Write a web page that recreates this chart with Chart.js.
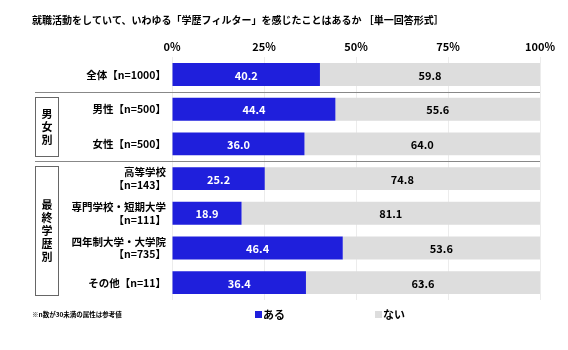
<!DOCTYPE html>
<html>
<head>
<meta charset="utf-8">
<script src="https://cdn.jsdelivr.net/npm/chart.js@4/dist/chart.umd.min.js"></script>
<style>
  body { margin: 0; background: #fff; }
  #wrap { width: 568px; height: 350px; }
</style>
</head>
<body>
<div id="wrap"><canvas id="chart" width="568" height="350"></canvas></div>
<script>
// data
const categories = [
    '全体【n=1000】',
    '男性【n=500】',
    '女性【n=500】',
    ['高等学校', '【n=143】'],
    ['専門学校・短期大学', '【n=111】'],
    ['四年制大学・大学院', '【n=735】'],
    'その他【n=11】'
];
const aruValues = [40.2, 44.4, 36.0, 25.2, 18.9, 46.4, 36.4];
const naiValues = [59.8, 55.6, 64.0, 74.8, 81.1, 53.6, 63.6];
const tickValues = [0, 25, 50, 75, 100];
const seriesNames = ['ある', 'ない'];
const groupNames = ['男女別', '最終学歴別'];

const FONT = '"Noto Sans CJK JP", "Noto Sans", sans-serif';
const BLUE = '#1f1fdc';
const GREY = '#dddddd';

// draws title, separators, group boxes, values and legend
const decorPlugin = {
    id: 'decor',
    afterDatasetsDraw(chart) {
        const ctx = chart.ctx;
        const y = chart.scales.y;
        const area = chart.chartArea;
        ctx.save();

        // title
        ctx.fillStyle = '#000';
        ctx.font = 'bold 10px ' + FONT;
        ctx.textAlign = 'left';
        ctx.textBaseline = 'middle';
        ctx.fillText('就職活動をしていて、いわゆる「学歴フィルター」を感じたことはあるか ［単一回答形式］', 32, 20);

        // value labels
        ctx.font = 'bold 11px ' + FONT;
        ctx.textAlign = 'center';
        chart.data.datasets.forEach((ds, di) => {
            const meta = chart.getDatasetMeta(di);
            meta.data.forEach((bar, i) => {
                ctx.fillStyle = di === 0 ? '#fff' : '#000';
                ctx.fillText(ds.data[i].toFixed(1), (bar.x + bar.base) / 2, bar.y + 1);
            });
        });

        // separators between groups
        const sepY = (a, b) => (y.getPixelForValue(a) + y.getPixelForValue(b)) / 2;
        ctx.strokeStyle = '#888';
        ctx.lineWidth = 1;
        [sepY(0, 1), sepY(2, 3)].forEach(sy => {
            ctx.beginPath();
            ctx.moveTo(35, Math.round(sy) + 0.5);
            ctx.lineTo(area.right, Math.round(sy) + 0.5);
            ctx.stroke();
        });

        // group boxes
        const step = y.getPixelForValue(1) - y.getPixelForValue(0);
        const groups = [[1, 2], [3, 6]];
        ctx.font = 'bold 11px ' + FONT;
        groups.forEach((g, gi) => {
            const top = y.getPixelForValue(g[0]) - step / 2 + 5;
            const bottom = y.getPixelForValue(g[1]) + step / 2 - 5;
            ctx.strokeStyle = '#666';
            ctx.strokeRect(35.5, Math.round(top) + 0.5, 23, Math.round(bottom - top));
            const chars = Array.from(groupNames[gi]);
            const mid = (top + bottom) / 2;
            ctx.fillStyle = '#000';
            chars.forEach((c, ci) => {
                ctx.fillText(c, 47, mid + (ci - (chars.length - 1) / 2) * 13);
            });
        });

        // note
        ctx.font = 'bold 6.5px ' + FONT;
        ctx.textAlign = 'left';
        ctx.fillText('※n数が30未満の属性は参考値', 32, 315);

        // legend
        ctx.font = 'bold 11px ' + FONT;
        const legendX = [255, 375];
        chart.data.datasets.forEach((ds, di) => {
            ctx.fillStyle = ds.backgroundColor;
            ctx.fillRect(legendX[di], 311, 7, 7);
            ctx.fillStyle = '#000';
            ctx.fillText(ds.label, legendX[di] + 8, 315);
        });

        ctx.restore();
    }
};

new Chart(document.getElementById('chart'), {
    type: 'bar',
    data: {
        labels: categories,
        datasets: [
            { label: seriesNames[0], data: aruValues, backgroundColor: BLUE },
            { label: seriesNames[1], data: naiValues, backgroundColor: GREY }
        ]
    },
    options: {
        indexAxis: 'y',
        responsive: false,
        animation: false,
        layout: { padding: { top: 36, bottom: 50, right: 28, left: 0 } },
        datasets: { bar: { barPercentage: 0.66, categoryPercentage: 1 } },
        plugins: {
            legend: { display: false },
            tooltip: { enabled: false }
        },
        scales: {
            x: {
                stacked: true,
                position: 'top',
                min: 0,
                max: 100,
                afterBuildTicks: (scale) => { scale.ticks = tickValues.map(v => ({ value: v })); },
                ticks: {
                    callback: (v) => v + '%',
                    color: '#000',
                    font: { family: FONT, size: 11, weight: 'bold' },
                    padding: 4,
                    maxRotation: 0
                },
                grid: { color: '#ececec', drawTicks: false },
                border: { display: false }
            },
            y: {
                stacked: true,
                afterFit: (scale) => { scale.width = 172; },
                ticks: {
                    color: '#000',
                    font: { family: FONT, size: 10.5, weight: 'bold' },
                    padding: 6,
                    autoSkip: false
                },
                grid: { display: false, drawTicks: false },
                border: { display: false }
            }
        }
    },
    plugins: [decorPlugin]
});
</script>
</body>
</html>
